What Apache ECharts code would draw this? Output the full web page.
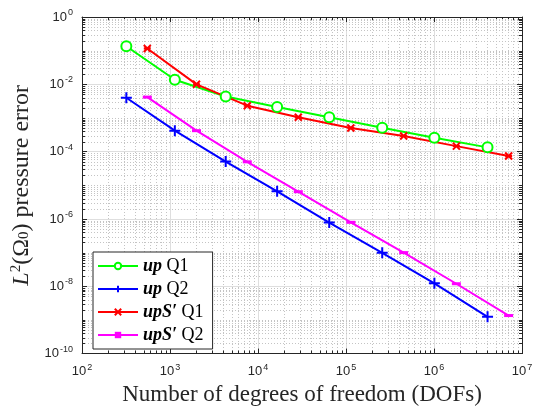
<!DOCTYPE html>
<html>
<head>
<meta charset="utf-8">
<script src="https://cdn.jsdelivr.net/npm/echarts@6/dist/echarts.min.js"></script>
<style>html,body{margin:0;padding:0;background:#fff;}#c{width:539px;height:411px;}</style>
</head>
<body>
<div id="c"></div>
<script>
// ---- data ----
const seriesNames = ['up Q1', 'up Q2', 'upS′ Q1', 'upS′ Q2'];
const dofsQ = [319, 1135, 4295, 16500, 64500, 258000, 1010000, 4060000];
const dofsS = [552, 2000, 7550, 28700, 113500, 452000, 1795000, 7050000];
const errUpQ1 = [0.135, 0.0137, 0.00434, 0.00212, 0.00105, 5.15e-4, 2.6e-4, 1.34e-4];
const errUpQ2 = [0.00398, 4.2e-4, 5.08e-5, 6.6e-6, 7.8e-7, 9.86e-8, 1.22e-8, 1.24e-9];
const errUpSQ1 = [0.116, 0.0100, 0.00232, 0.00105, 5.03e-4, 2.93e-4, 1.46e-4, 7.45e-5];
const errUpSQ2 = [0.00417, 4.2e-4, 4.98e-5, 6.45e-6, 7.95e-7, 1.0e-7, 1.19e-8, 1.35e-9];
const xExpMin = 2, xExpMax = 7;
const yExpMin = -10, yExpMax = 0;

// minor grid values
const xMinor = [];
for (let k = xExpMin; k < xExpMax; k++) for (let m = 2; m <= 9; m++) xMinor.push(m * Math.pow(10, k));
const yMinor = [];
for (let k = yExpMin; k < yExpMax; k++) for (let m = 1; m <= 9; m++) {
  if (m === 1 && (k % 2 === 0)) continue;
  yMinor.push(m * Math.pow(10, k));
}

const TXT = '#262626';
const chart = echarts.init(document.getElementById('c'), null, {renderer: 'canvas'});

function expLabel(v) {
  const e = Math.round(Math.log10(v));
  return '{b|10}{s|' + e + '}';
}
const labelRich = {
  b: {fontFamily: 'Liberation Sans', fontSize: 13, color: TXT},
  s: {fontFamily: 'Liberation Sans', fontSize: 9, color: TXT, padding: [0, 0, 9, 1]}
};

function zip(xs, ys) { return xs.map((x, i) => [x, ys[i]]); }

const plusPath = 'path://M0,5L10,5M5,0L5,10';
const starPath = 'path://M0,0L10,10M10,0L0,10M0,5L10,5';

function minorV(params, api) {
  const cs = params.coordSys;
  const p = api.coord([api.value(0), api.value(1)]);
  const x = Math.round(p[0]) + 0.5;
  return {type: 'group', children: [
    {type: 'line', shape: {x1: x, y1: cs.y, x2: x, y2: cs.y + cs.height}, style: {stroke: '#c4c4c4', lineWidth: 1, lineDash: [1, 2]}},
    {type: 'line', shape: {x1: x, y1: cs.y + cs.height, x2: x, y2: cs.y + cs.height - 3}, style: {stroke: TXT, lineWidth: 1}},
    {type: 'line', shape: {x1: x, y1: cs.y, x2: x, y2: cs.y + 3}, style: {stroke: TXT, lineWidth: 1}}
  ]};
}
function minorH(params, api) {
  const cs = params.coordSys;
  const p = api.coord([api.value(0), api.value(1)]);
  const y = Math.round(p[1]) + 0.5;
  return {type: 'group', children: [
    {type: 'line', shape: {x1: cs.x, y1: y, x2: cs.x + cs.width, y2: y}, style: {stroke: '#c4c4c4', lineWidth: 1, lineDash: [1, 2]}},
    {type: 'line', shape: {x1: cs.x, y1: y, x2: cs.x + 3, y2: y}, style: {stroke: TXT, lineWidth: 1}},
    {type: 'line', shape: {x1: cs.x + cs.width, y1: y, x2: cs.x + cs.width - 3, y2: y}, style: {stroke: TXT, lineWidth: 1}}
  ]};
}

const baseX = {
  type: 'log', logBase: 10, min: Math.pow(10, xExpMin), max: Math.pow(10, xExpMax), interval: 1,
  axisLine: {show: true, lineStyle: {color: TXT, width: 1}},
  axisTick: {show: true, inside: true, length: 5, lineStyle: {color: TXT}},
  minorTick: {show: false}, minorSplitLine: {show: false}
};
const baseY = {
  type: 'log', logBase: 10, min: Math.pow(10, yExpMin), max: Math.pow(10, yExpMax), interval: 2,
  axisLine: {show: true, lineStyle: {color: TXT, width: 1}},
  axisTick: {show: true, inside: true, length: 5, lineStyle: {color: TXT}},
  minorTick: {show: false}, minorSplitLine: {show: false}
};

const legendRich = {
  bi: {fontFamily: 'Liberation Serif', fontStyle: 'italic', fontWeight: 'bold', fontSize: 18, color: '#000'},
  n: {fontFamily: 'Liberation Serif', fontSize: 18, color: '#000'}
};

const option = {
  animation: false,
  backgroundColor: '#fff',
  grid: {left: 82, right: 17, top: 17, bottom: 53},
  xAxis: [
    Object.assign({}, baseX, {
      position: 'bottom',
      splitLine: {show: true, lineStyle: {color: '#dedede', width: 1}},
      axisLabel: {show: true, margin: 9, formatter: expLabel, rich: labelRich},
      name: 'Number of degrees of freedom (DOFs)', nameLocation: 'middle', nameGap: 25,
      nameTextStyle: {fontFamily: 'Liberation Serif', fontSize: 23, color: TXT}
    }),
    Object.assign({}, baseX, {position: 'top', splitLine: {show: false}, axisLabel: {show: false}})
  ],
  yAxis: [
    Object.assign({}, baseY, {
      position: 'left',
      splitLine: {show: true, lineStyle: {color: '#dedede', width: 1}},
      axisLabel: {show: true, margin: 9, formatter: expLabel, rich: labelRich},
      name: '{i|L}{sup|2}(Ω{sub|0}) pressure error', nameLocation: 'middle', nameGap: 45,
      nameTextStyle: {
        fontFamily: 'Liberation Serif', fontSize: 24, color: TXT,
        rich: {
          i: {fontFamily: 'Liberation Serif', fontStyle: 'italic', fontSize: 24, color: TXT},
          sup: {fontFamily: 'Liberation Serif', fontSize: 15, color: TXT, padding: [0, 0, 11, 0]},
          sub: {fontFamily: 'Liberation Serif', fontSize: 15, color: TXT, padding: [8, 0, 0, 0], verticalAlign: 'top'}
        }
      }
    }),
    Object.assign({}, baseY, {position: 'right', splitLine: {show: false}, axisLabel: {show: false}})
  ],
  legend: {
    data: seriesNames,
    orient: 'vertical',
    left: 93, top: 252,
    backgroundColor: '#fff',
    borderColor: TXT, borderWidth: 1, borderRadius: 0,
    padding: [5, 9, 5, 4],
    itemWidth: 40, itemHeight: 8, itemGap: 5, itemTextGap: 4,
    textStyle: {fontFamily: 'Liberation Serif', fontSize: 18, color: '#000', lineHeight: 17, rich: legendRich},
    formatter: function (name) {
      const parts = name.split(' ');
      return '{bi|' + parts[0] + '}{n| ' + parts[1] + '}';
    }
  },
  series: [
    {type: 'custom', name: 'minorX', silent: true, z: 0, xAxisIndex: 0, yAxisIndex: 0,
     renderItem: minorV, data: xMinor.map(v => [v, 1e-5]), clip: false},
    {type: 'custom', name: 'minorY', silent: true, z: 0, xAxisIndex: 0, yAxisIndex: 0,
     renderItem: minorH, data: yMinor.map(v => [1e4, v]), clip: false},
    {type: 'line', name: seriesNames[0], data: zip(dofsQ, errUpQ1), z: 5,
     color: '#00ff00', lineStyle: {width: 2, color: '#00ff00'},
     symbol: 'emptyCircle', symbolSize: 10, showAllSymbol: true,
     itemStyle: {color: '#00ff00', borderColor: '#00ff00', borderWidth: 1.8}},
    {type: 'line', name: seriesNames[1], data: zip(dofsQ, errUpQ2), z: 5,
     color: '#0000ff', lineStyle: {width: 2, color: '#0000ff'},
     symbol: plusPath, symbolSize: 11, showAllSymbol: true,
     itemStyle: {color: '#0000ff', borderColor: '#0000ff', borderWidth: 2}},
    {type: 'line', name: seriesNames[2], data: zip(dofsS, errUpSQ1), z: 5,
     color: '#ff0000', lineStyle: {width: 2, color: '#ff0000'},
     symbol: starPath, symbolSize: 7, showAllSymbol: true,
     itemStyle: {color: '#ff0000', borderColor: '#ff0000', borderWidth: 2}},
    {type: 'line', name: seriesNames[3], data: zip(dofsS, errUpSQ2), z: 5,
     color: '#ff00ff', lineStyle: {width: 2, color: '#ff00ff'},
     symbol: 'rect', symbolSize: [9, 3], showAllSymbol: true,
     itemStyle: {color: '#ff00ff', borderWidth: 0}}
  ]
};
chart.setOption(option);
</script>
</body>
</html>
